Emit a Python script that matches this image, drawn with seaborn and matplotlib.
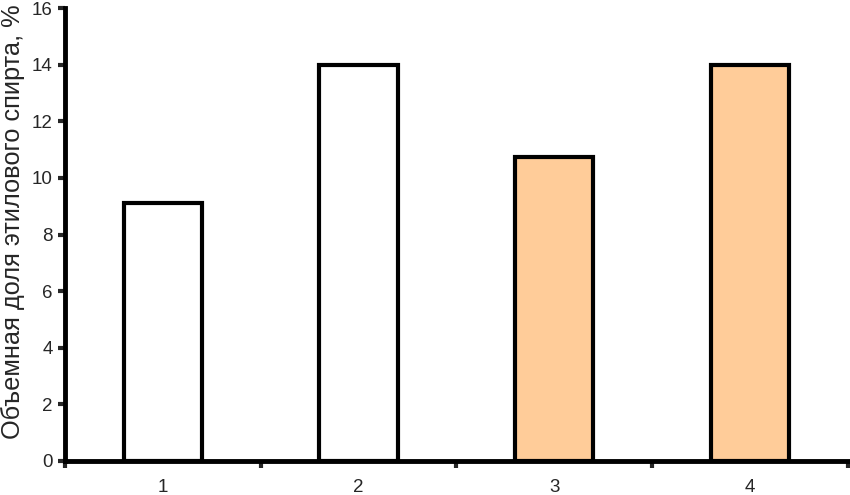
import matplotlib
matplotlib.use("Agg")
import matplotlib.pyplot as plt
import pandas as pd
import seaborn as sns

# Values
samples = ["1", "2", "3", "4"]
ethanol = [9.1, 14.0, 10.75, 14.0]
group = ["a", "a", "b", "b"]
colors = {"a": "#FFFFFF", "b": "#FFCC99"}

df = pd.DataFrame({"sample": samples, "ethanol": ethanol, "group": group})

sns.set_style("white")
plt.rcParams["font.family"] = ["Liberation Sans", "DejaVu Sans"]

fig = plt.figure(figsize=(8.5, 4.95), dpi=100)
ax = fig.add_axes([0.0765, 0.0687, 0.921, 0.915])

sns.barplot(data=df, x="sample", y="ethanol", hue="group", palette=colors,
            dodge=False, width=0.4, edgecolor="black", linewidth=3,
            saturation=1, legend=False, ax=ax)

ax.set_ylim(0, 16)
ax.set_xlim(-0.5, len(samples) - 0.5)
ax.set_yticks(range(0, 17, 2))
ax.tick_params(axis="y", labelsize=13.5, length=5, width=3, direction="out",
               left=True, pad=4)
ax.tick_params(axis="x", which="major", length=0, labelsize=13.5, pad=13)
ax.set_xticks([i - 0.5 for i in range(len(samples) + 1)], minor=True)
ax.tick_params(axis="x", which="minor", length=5, width=3, direction="out",
               bottom=True)

for side in ["top", "right"]:
    ax.spines[side].set_visible(False)
for side in ["left", "bottom"]:
    ax.spines[side].set_linewidth(3.5)
    ax.spines[side].set_color("black")

ax.set_xlabel("")
ax.set_ylabel("Объемная доля этилового спирта, %", fontsize=18.3)
ax.yaxis.set_label_coords(-0.051, 0.528)

fig.savefig("out.png", dpi=100)
